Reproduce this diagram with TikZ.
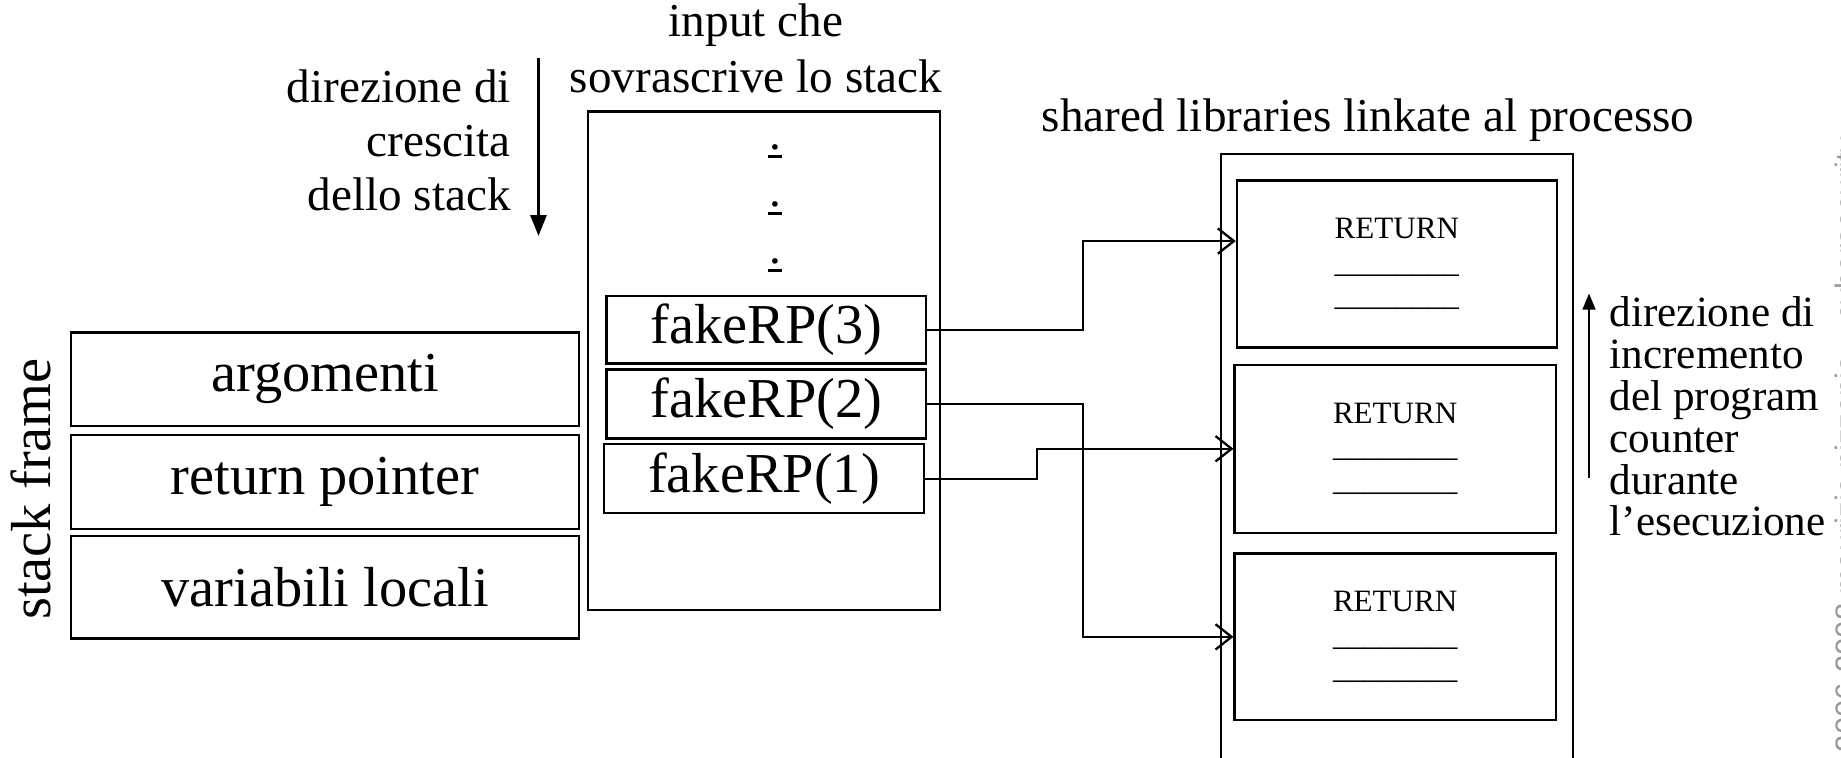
\documentclass[tikz,border=0pt]{standalone}
\usepackage{fontspec}
\setmainfont{Liberation Serif}
\newfontfamily\wmfont{Liberation Sans}
\usetikzlibrary{arrows.meta,positioning}
\newcommand{\stackdot}{\rlap{\kern0.9pt.}\rule[-7pt]{12pt}{2pt}}

\begin{document}
\begin{tikzpicture}[x=1pt,y=-1pt,line width=2pt,
		box/.style={draw,inner sep=0pt,font=\fontsize{49}{55}\selectfont},
		retbox/.style={draw,inner sep=0pt,minimum width=279pt,minimum height=145pt,align=center,font=\fontsize{27}{29}\selectfont},
		lbl/.style={inner sep=0pt,font=\fontsize{41}{47}\selectfont},
		link/.style={-{Straight Barb[length=14pt,width=22pt]}},
		growarrow/.style={-{Triangle[length=18pt,width=14pt]}}]
	\useasboundingbox (0,0) rectangle (1600,658);
	% stack frame
	\node[rotate=90,inner sep=0pt,font=\fontsize{49}{55}\selectfont] (sf) at (27,425) {stack frame};
	\node[box,minimum width=441pt,minimum height=81pt] (arg) at (282.5,329.5) {argomenti};
	\node[box,minimum width=441pt,minimum height=82pt] (retp) at (282.5,419) {return pointer};
	\node[box,minimum width=441pt,minimum height=89pt] (var) at (282.5,510.5) {variabili locali};
	% crescita dello stack
	\coordinate (gtop) at (468,50);
	\coordinate (gbot) at (468,205);
	\draw[growarrow] (gtop) -- (gbot);
	\node[lbl,align=right,anchor=east] (gtxt) at (445,122) {direzione di\\crescita\\dello stack};
	% input
	\node[lbl,align=center,font=\fontsize{41}{48}\selectfont] (intxt) at (657,42) {input che\\sovrascrive lo stack};
	\node[draw,inner sep=0pt,minimum width=306pt,minimum height=433pt] (inp) at (664,313.5) {};
	\foreach \y [count=\i] in {130,179.5,229}
		\node[lbl,anchor=base] (dot\i) at (673.5,\y) {\stackdot};
	\node[box,minimum width=278pt,minimum height=59pt] (rp3) at (666,286.5) {fakeRP(3)};
	\node[box,minimum width=278pt,minimum height=60pt] (rp2) at (666,351) {fakeRP(2)};
	\node[box,minimum width=278pt,minimum height=60pt] (rp1) at (664,416) {fakeRP(1)};
	% shared libraries
	\node[lbl] (libtxt) at (1189,104) {shared libraries linkate al processo};
	\node[draw,inner sep=0pt,minimum width=306pt,minimum height=646pt] (libs) at (1214,457) {};
	\node[retbox,minimum width=278pt] (ret1) at (1214,229.5) {RETURN\\\_\_\_\_\_\_\_\_\\\_\_\_\_\_\_\_\_};
	\node[retbox,minimum height=146pt] (ret2) at (1212.5,390) {RETURN\\\_\_\_\_\_\_\_\_\\\_\_\_\_\_\_\_\_};
	\node[retbox] (ret3) at (1212.5,553.5) {RETURN\\\_\_\_\_\_\_\_\_\\\_\_\_\_\_\_\_\_};
	\coordinate (in1) at ([yshift=20pt]ret1.west);
	\draw[link] (rp3.east) -- ++(135,0) |- (in1);
	\draw[link] (rp2.east) -- ++(135,0) |- (ret3.west);
	\draw[link] (rp1.east) -- ++(97,0) |- (ret2.west);
	% program counter
	\coordinate (pcbot) at (1381,415);
	\coordinate (pctop) at (1381,255);
	\draw[-{Triangle[length=14pt,width=11pt]}] (pcbot) -- (pctop);
	\node[inner sep=0pt,align=left,anchor=west,font=\fontsize{37.5}{36.4}\selectfont] (pctxt) at (1398,362) {direzione di\\incremento\\del program\\counter\\durante\\l’esecuzione};
	% watermark
	\node[rotate=90,anchor=north west,inner sep=0pt,text=black!40,font=\wmfont\fontsize{27}{32}\selectfont] (wm) at (1593.5,682) {© 2006-2008 maurizio pizzonia – cybersecurity};
\end{tikzpicture}
\end{document}
